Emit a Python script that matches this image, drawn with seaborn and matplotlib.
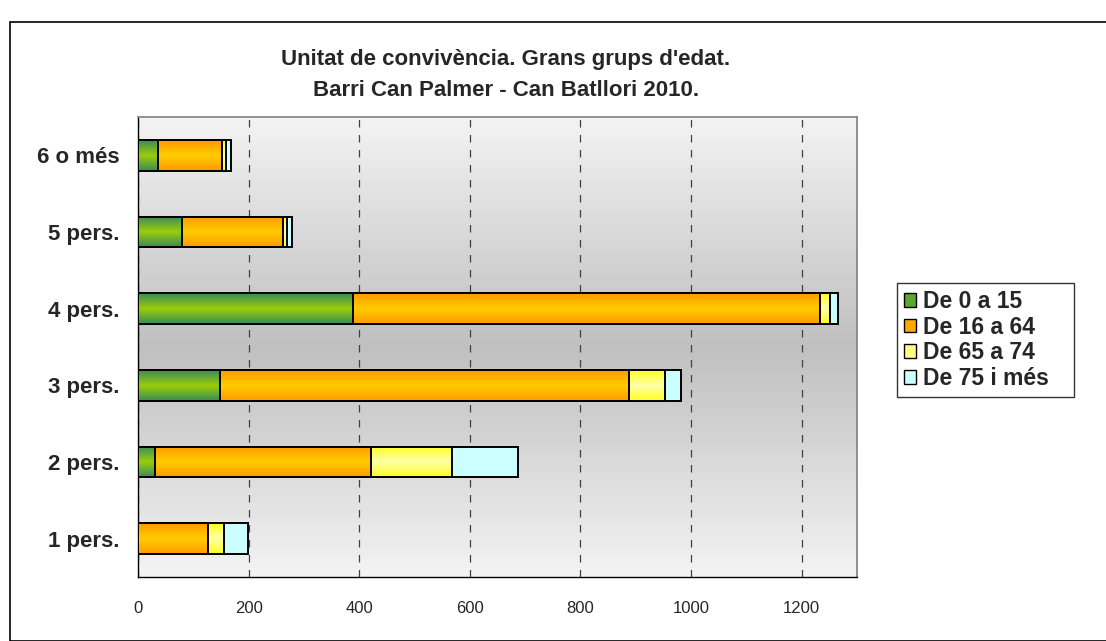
import matplotlib
matplotlib.use("Agg")
import matplotlib.pyplot as plt
import numpy as np
import pandas as pd
import seaborn as sns
from matplotlib.colors import LinearSegmentedColormap
from matplotlib.patches import Patch, Rectangle

# data
categories = ["6 o més", "5 pers.", "4 pers.", "3 pers.", "2 pers.", "1 pers."]
series_names = ["De 0 a 15", "De 16 a 64", "De 65 a 74", "De 75 i més"]
age_0_15 = [37, 80, 389, 148, 30, 0]
age_16_64 = [114, 183, 844, 739, 391, 126]
age_65_74 = [8, 6, 18, 65, 147, 29]
age_75_plus = [10, 9, 15, 29, 119, 43]
x_ticks = [0, 200, 400, 600, 800, 1000, 1200]

df = pd.DataFrame({
    "unitat": categories,
    "De 0 a 15": age_0_15,
    "De 16 a 64": age_16_64,
    "De 65 a 74": age_65_74,
    "De 75 i més": age_75_plus,
})
cum = df[series_names].cumsum(axis=1)
cum["unitat"] = df["unitat"]

sns.set_style("white")
plt.rcParams["font.family"] = ["Liberation Sans", "DejaVu Sans"]

# gradient maps (edge -> centre -> edge), one per series
grad_cols = {
    "De 0 a 15": ["#3a8c55", "#9acd0a", "#3a8c55"],
    "De 16 a 64": ["#ff9a00", "#ffcc00", "#ff9a00"],
    "De 65 a 74": ["#ffff22", "#ffffa8", "#ffff22"],
    "De 75 i més": ["#ccffff", "#ccffff", "#ccffff"],
}
legend_cols = ["#5aa832", "#ffa800", "#ffff80", "#ccffff"]

fig = plt.figure(figsize=(11.06, 6.41), dpi=100)
ax = fig.add_axes([138 / 1106, 1 - 577 / 641, (857 - 138) / 1106, (577 - 117) / 641])

# plot area background gradient
bg = np.concatenate([np.linspace(0.95, 0.75, 50), np.linspace(0.75, 0.95, 50)])
ax.imshow(bg[:, None], extent=[0, 1, 0, 1], transform=ax.transAxes,
          cmap="gray", vmin=0, vmax=1, aspect="auto", zorder=0)

# stacked bars: draw cumulative totals, largest first
layers = list(reversed(series_names))
for k, name in enumerate(layers):
    n_before = len(ax.patches)
    sns.barplot(data=cum, y="unitat", x=name, orient="h", order=categories,
                color=grad_cols[name][1], width=0.4, edgecolor="black",
                linewidth=1.4, saturation=1, ax=ax, zorder=2 + k)
    cmap = LinearSegmentedColormap.from_list(name, grad_cols[name])
    for p in ax.patches[n_before:]:
        x0, y0 = p.get_x(), p.get_y()
        w, h = p.get_width(), p.get_height()
        if w <= 0:
            p.set_visible(False)
            continue
        im = ax.imshow(np.linspace(0, 1, 60)[:, None], extent=[x0, x0 + w, y0 + h, y0],
                       cmap=cmap, aspect="auto", zorder=2 + k, interpolation="bilinear")
        im.set_clip_path(p)
        p.set_facecolor("none")
        p.set_zorder(2.1 + k)

ax.set_xlim(0, 1300)
ax.set_ylim(5.5, -0.5)
ax.set_xticks(x_ticks)
ax.set_xticklabels([str(t) for t in x_ticks], fontsize=12)
ax.set_yticks(range(len(categories)))
ax.set_yticklabels(categories, fontsize=16, fontweight="bold")
ax.set_yticks(np.arange(-0.5, len(categories), 1), minor=True)
ax.tick_params(axis="y", which="major", length=0, pad=13)
ax.tick_params(axis="y", which="minor", length=5, width=1, direction="out", color="black")
ax.tick_params(axis="x", length=5, width=1, direction="out", color="black", pad=12)
ax.set_xlabel("")
ax.set_ylabel("")

ax.xaxis.grid(True, linestyle=(0, (6, 6)), color="#404040", linewidth=0.9)
ax.set_axisbelow(True)
for side in ["left", "bottom"]:
    ax.spines[side].set_color("black")
    ax.spines[side].set_linewidth(1)
for side in ["top", "right"]:
    ax.spines[side].set_color("#808080")
    ax.spines[side].set_linewidth(1.2)

handles = [Patch(facecolor=c, edgecolor="black", linewidth=1) for c in legend_cols]
leg = fig.legend(handles, series_names, loc="upper left", mode="expand",
                 bbox_to_anchor=(897 / 1106, 1 - 401 / 641, (1074 - 897) / 1106, 118 / 641),
                 prop={"weight": "bold", "size": 16.5}, frameon=True, fancybox=False,
                 edgecolor="black", handlelength=0.55, handleheight=0.55,
                 handletextpad=0.3, labelspacing=0.12, borderpad=0.3, borderaxespad=0)
leg.get_frame().set_linewidth(1)

fig.text(506 / 1106, 1 - 60 / 641, "Unitat de convivència. Grans grups d'edat.",
         ha="center", va="center", fontsize=16, fontweight="bold")
fig.text(506 / 1106, 1 - 90 / 641, "Barri Can Palmer - Can Batllori 2010.",
         ha="center", va="center", fontsize=16, fontweight="bold")

# chart-area frame
fig.patches.append(Rectangle((10 / 1106, 0), 1.2, 1 - 22 / 641, transform=fig.transFigure,
                             fill=False, edgecolor="black", linewidth=1.2))

fig.savefig("out.png", dpi=100)
